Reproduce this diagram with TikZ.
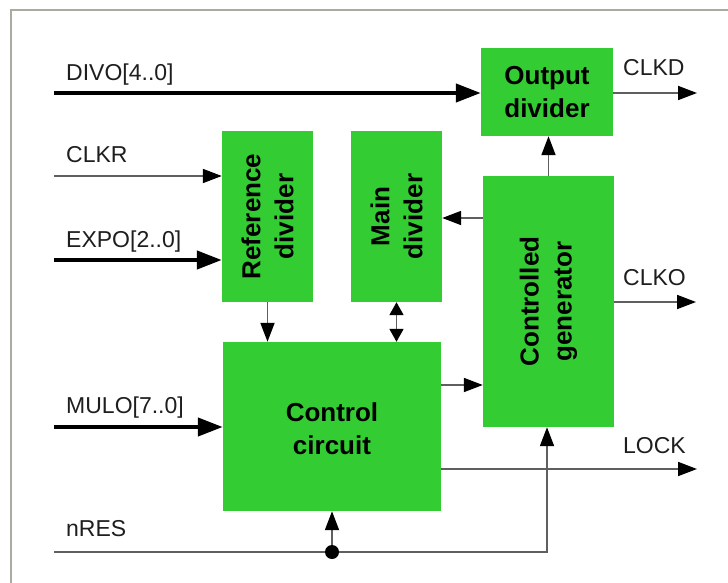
\documentclass[tikz,border=0pt]{standalone}
\usepackage{fontspec}
\setmainfont{Liberation Sans}
\usetikzlibrary{arrows.meta,calc}
\definecolor{blockgreen}{RGB}{51,204,51}
\definecolor{wire}{RGB}{95,95,95}
\definecolor{frame}{RGB}{170,170,160}
\definecolor{lab}{RGB}{30,30,30}
\tikzset{
  block/.style={rectangle, fill=blockgreen, draw=none, inner sep=0pt},
  btext/.style={align=center, font=\bfseries\fontsize{26}{33}\selectfont, inner sep=0pt},
  siglabel/.style={anchor=base west, inner sep=0pt, text=lab, font=\fontsize{23}{27}\selectfont},
  thinwire/.style={draw=wire, line width=1.8pt},
  thickwire/.style={draw=black, line width=4.2pt},
  thinarrow/.style={thinwire, -{Triangle[length=19pt,width=14pt,color=black]}},
  thinboth/.style={thinwire, {Triangle[length=13pt,width=14pt,color=black]}-{Triangle[length=13pt,width=14pt,color=black]}},
  thickarrow/.style={thickwire, -{Triangle[length=25pt,width=18pt]}},
}
\begin{document}
\begin{tikzpicture}[x=1pt,y=-1pt]
\useasboundingbox (0,0) rectangle (728,583);
\fill[white] (0,0) rectangle (728,583);
\draw[frame, line width=2pt] (11,590) -- (11,10) -- (735,10);

% blocks
\node[block, minimum width=132pt, minimum height=88pt] (outdiv) at (547,92) {};
\node[btext] at (outdiv) {Output\\divider};
\node[block, minimum width=91pt, minimum height=171pt] (refdiv) at (267.5,216.5) {};
\node[btext, rotate=90] at (refdiv) {Reference\\divider};
\node[block, minimum width=91pt, minimum height=171pt] (maindiv) at (396.5,216.5) {};
\node[btext, rotate=90] at (maindiv) {Main\\divider};
\node[block, minimum width=131pt, minimum height=251pt] (gen) at (548.5,301.5) {};
\node[btext, rotate=90] at (gen) {Controlled\\generator};
\node[block, minimum width=218pt, minimum height=169pt] (ctrl) at (332,426.5) {};
\node[btext] at ($(ctrl)+(0,2)$) {Control\\circuit};

% free ends
\coordinate (divo) at (54,93);
\coordinate (clkr) at (54,176);
\coordinate (expo) at (54,260);
\coordinate (mulo) at (54,427);
\coordinate (nres) at (54,552);
\coordinate (clkd) at (697,93);
\coordinate (clko) at (696,302);
\coordinate (lock) at (697,469);
\coordinate (nrescorner) at (547,552);
\coordinate (dot) at (332,552);

% labels
\node[siglabel] (ldivo) at (66,81) {DIVO[4..0]};
\node[siglabel] (lclkr) at (66,162) {CLKR};
\node[siglabel] (lexpo) at (66,247) {EXPO[2..0]};
\node[siglabel] (lmulo) at (66,413) {MULO[7..0]};
\node[siglabel] (lnres) at (66,536) {nRES};
\node[siglabel] (lclkd) at (623,76) {CLKD};
\node[siglabel] (lclko) at (623,285) {CLKO};
\node[siglabel] (llock) at (623,453) {LOCK};

% inputs
\draw[thickarrow] (divo) -- (divo -| outdiv.west);
\draw[thinarrow] (clkr) -- (clkr -| refdiv.west);
\draw[thickarrow] (expo) -- (expo -| refdiv.west);
\draw[thickarrow] (mulo) -- (mulo -| ctrl.west);

% outputs
\draw[thinarrow] (clkd -| outdiv.east) -- (clkd);
\draw[thinarrow] (clko -| gen.east) -- (clko);
\draw[thinarrow] (lock -| ctrl.east) -- (lock);

% internal
\draw[thinarrow] (gen.north) -- (gen.north |- outdiv.south);
\draw[thinarrow] (gen.west |- 0,218) -- (maindiv.east |- 0,218);
\draw[thinarrow] (refdiv.south) -- (refdiv.south |- ctrl.north);
\draw[thinboth] (maindiv.south) -- (maindiv.south |- ctrl.north);
\draw[thinarrow] (ctrl.east |- 0,385) -- (gen.west |- 0,385);

% reset
\draw[thinarrow] (nres) -- (nrescorner) -- (nrescorner |- gen.south);
\draw[thinarrow] (dot) -- (ctrl.south);
\fill[black] (dot) circle (7pt);
\end{tikzpicture}
\end{document}
